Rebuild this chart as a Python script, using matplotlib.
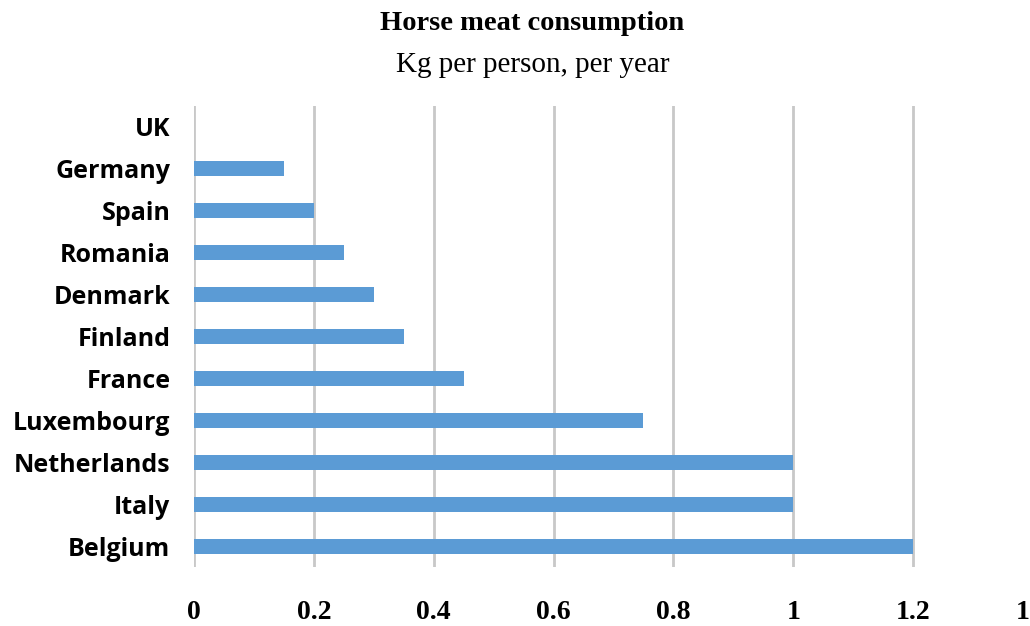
import matplotlib
matplotlib.use("Agg")
import matplotlib.pyplot as plt

countries = ["Belgium", "Italy", "Netherlands", "Luxembourg", "France", "Finland",
             "Denmark", "Romania", "Spain", "Germany", "UK"]
values = [1.2, 1.0, 1.0, 0.75, 0.45, 0.35, 0.3, 0.25, 0.2, 0.15, 0.0]
xticks = [0, 0.2, 0.4, 0.6, 0.8, 1.0, 1.2, 1.4]
xticklabels = ["0", "0.2", "0.4", "0.6", "0.8", "1", "1.2", "1.4"]

fig = plt.figure(figsize=(10.30, 6.26), dpi=100)
ax = fig.add_axes([194/1030, 1 - 567/626, (1033 - 194)/1030, (567 - 106)/626])

ax.barh(range(len(countries)), values, height=0.36, color="#5b9bd5", zorder=3)
ax.set_xlim(0, 1.4)
ax.set_ylim(-0.5, len(countries) - 0.5)
ax.set_xticks(xticks)
ax.set_xticklabels(xticklabels, fontfamily="Liberation Serif", fontweight="bold", fontsize=20)
ax.set_yticks(range(len(countries)))
ax.set_yticklabels(countries, fontfamily="Open Sans", fontweight="bold", fontsize=18)
ax.tick_params(axis="both", length=0)
ax.tick_params(axis="x", pad=24)
ax.tick_params(axis="y", pad=17)
ax.grid(axis="x", color="#c8c8c8", linewidth=2, zorder=0)
for s in ax.spines.values():
    s.set_visible(False)

fig.text(532/1030, 1 - 24/626, "Horse meat consumption", ha="center", va="center",
         fontfamily="Liberation Serif", fontweight="bold", fontsize=20.5)
fig.text(533/1030, 1 - 65/626, "Kg per person, per year", ha="center", va="center",
         fontfamily="Liberation Serif", fontsize=21)

fig.savefig("out.png", dpi=100)
